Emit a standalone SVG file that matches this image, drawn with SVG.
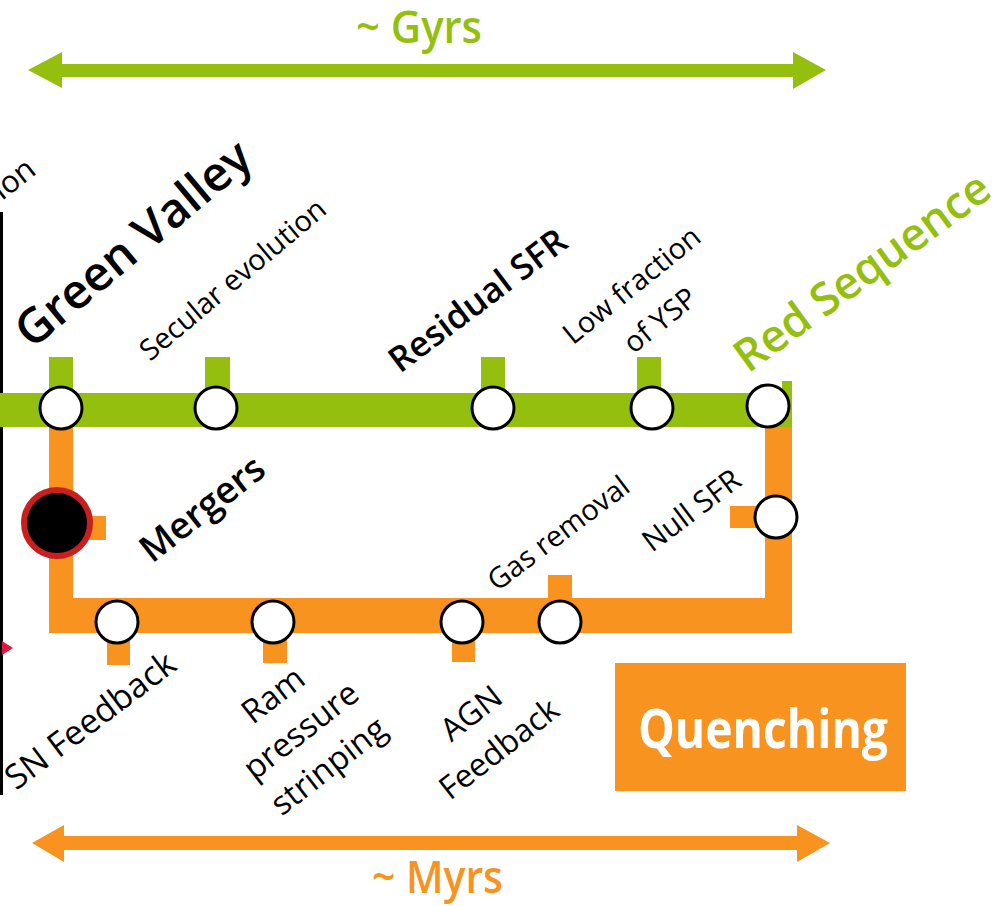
<svg xmlns="http://www.w3.org/2000/svg" width="1006" height="906" viewBox="0 0 1006 906">
<style>
.g{fill:#95bf0f}
.o{fill:#f7931e}
.st{fill:#fff;stroke:#000;stroke-width:3}
.t{font-family:"Open Sans","Noto Sans",sans-serif;fill:#000}
.tg{font-family:"Open Sans","Noto Sans",sans-serif;fill:#95bf0f;font-weight:600}
.to{font-family:"Open Sans","Noto Sans",sans-serif;fill:#f7931e;font-weight:600}
</style>
<rect width="1006" height="906" fill="#fff"/>
<!-- left edge -->
<rect x="0" y="212" width="3" height="583" fill="#000"/>
<polygon points="2,641 13,648 2,655" fill="#e0163d"/>
<text class="t" font-size="31" transform="translate(2,201) rotate(-38)">ion</text>

<g id="connectors">
  <!-- Gyrs arrow -->
  <polygon class="g" points="28,70 62,52 62,64 793,64 793,52 826,70 793,89 793,77 62,77 62,88"/>
  <!-- Myrs arrow -->
  <polygon class="o" points="32,843 64,825 64,836 797,836 797,825 830,843 797,862 797,850 64,850 64,862"/>
  <!-- orange line -->
  <rect class="o" x="49" y="420" width="24" height="213"/>
  <rect class="o" x="49" y="598" width="743" height="35"/>
  <rect class="o" x="765" y="420" width="27" height="213"/>
  <!-- green line -->
  <rect class="g" x="0" y="393" width="792" height="34"/>
  <rect class="g" x="782" y="381" width="10" height="14"/>
  <!-- green stubs -->
  <rect class="g" x="49" y="357" width="24" height="38"/>
  <rect class="g" x="205" y="357" width="25" height="38"/>
  <rect class="g" x="481" y="357" width="24" height="38"/>
  <rect class="g" x="637" y="357" width="24" height="38"/>
  <!-- orange stubs -->
  <rect class="o" x="70" y="516" width="36" height="24"/>
  <rect class="o" x="107" y="630" width="23" height="35"/>
  <rect class="o" x="263" y="630" width="24" height="33"/>
  <rect class="o" x="452" y="630" width="23" height="32"/>
  <rect class="o" x="548" y="575" width="24" height="26"/>
  <rect class="o" x="730" y="506" width="38" height="22"/>
</g>

<g id="gyrs"><text class="tg" font-size="46" x="356" y="43" textLength="126" lengthAdjust="spacingAndGlyphs">~ Gyrs</text></g>
<g id="myrs"><text class="to" font-size="46" x="372" y="893" textLength="131" lengthAdjust="spacingAndGlyphs">~ Myrs</text></g>

<g id="green-valley">
  <circle class="st" cx="61" cy="408" r="21"/>
  <text class="t" font-size="48" font-weight="600" transform="translate(32,350) rotate(-40)">Green Valley</text>
</g>
<g id="secular-evolution">
  <circle class="st" cx="216" cy="408" r="21"/>
  <text class="t" font-size="29" transform="translate(150,362) rotate(-40)">Secular evolution</text>
</g>
<g id="residual-sfr">
  <circle class="st" cx="493" cy="408" r="21"/>
  <text class="t" font-size="35" font-weight="600" transform="translate(400,374) rotate(-37)">Residual SFR</text>
</g>
<g id="low-fraction">
  <circle class="st" cx="652" cy="408" r="21"/>
  <text class="t" font-size="29" text-anchor="middle" transform="translate(638,293) rotate(-39)"><tspan x="0" y="0">Low fraction</tspan><tspan x="0" y="45">of YSP</tspan></text>
</g>
<g id="red-sequence">
  <circle class="st" cx="768" cy="406" r="21"/>
  <text class="tg" font-size="45" font-weight="600" transform="translate(748,374) rotate(-36)">Red Sequence</text>
</g>
<g id="mergers">
  <circle cx="57" cy="523" r="33" fill="#000" stroke="#c8201f" stroke-width="6"/>
  <text class="t" font-size="37" font-weight="600" transform="translate(152,564) rotate(-38)">Mergers</text>
</g>
<g id="null-sfr">
  <circle class="st" cx="776" cy="517" r="21"/>
  <text class="t" font-size="30" transform="translate(652,553) rotate(-37)">Null SFR</text>
</g>
<g id="sn-feedback">
  <circle class="st" cx="117" cy="622" r="21"/>
  <text class="t" font-size="34" transform="translate(16,791) rotate(-37)">SN Feedback</text>
</g>
<g id="ram-pressure">
  <circle class="st" cx="273" cy="622" r="21"/>
  <text class="t" font-size="33" text-anchor="middle" transform="translate(280,704) rotate(-38)"><tspan x="0" y="0">Ram</tspan><tspan x="0" y="45">pressure</tspan><tspan x="0" y="90">strinping</tspan></text>
</g>
<g id="agn-feedback">
  <circle class="st" cx="462" cy="622" r="21"/>
  <text class="t" font-size="32" text-anchor="middle" transform="translate(478,722) rotate(-38)"><tspan x="0" y="0">AGN</tspan><tspan x="0" y="45">Feedback</tspan></text>
</g>
<g id="gas-removal">
  <circle class="st" cx="560" cy="622" r="21"/>
  <text class="t" font-size="29" transform="translate(497,592) rotate(-37)">Gas removal</text>
</g>
<g id="quenching">
  <rect class="o" x="615" y="663" width="291" height="128"/>
  <text font-family="Open Sans,Noto Sans,sans-serif" font-weight="700" font-size="54" fill="#fff" x="638" y="748" textLength="250" lengthAdjust="spacingAndGlyphs">Quenching</text>
</g>
</svg>
